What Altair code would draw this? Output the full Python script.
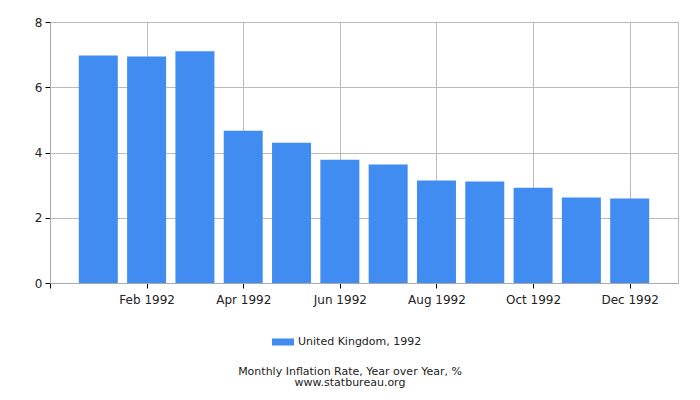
import altair as alt
import pandas as pd

months = ["Jan", "Feb", "Mar", "Apr", "May", "Jun", "Jul", "Aug", "Sep", "Oct", "Nov", "Dec"]
month_index = [1, 2, 3, 4, 5, 6, 7, 8, 9, 10, 11, 12]
values = [6.97, 6.94, 7.10, 4.67, 4.30, 3.78, 3.63, 3.14, 3.11, 2.92, 2.62, 2.59]
series = "United Kingdom, 1992"

df = pd.DataFrame({"idx": month_index, "month": months, "value": values, "series": series})

FONT = "DejaVu Sans"

label_expr = ("datum.value == 2 ? 'Feb 1992' : datum.value == 4 ? 'Apr 1992' : "
              "datum.value == 6 ? 'Jun 1992' : datum.value == 8 ? 'Aug 1992' : "
              "datum.value == 10 ? 'Oct 1992' : datum.value == 12 ? 'Dec 1992' : ''")

chart = alt.Chart(df).mark_bar(size=39).encode(
    x=alt.X("idx:Q", scale=alt.Scale(domain=[0, 13], nice=False, zero=False, padding=0),
            axis=alt.Axis(values=[0, 2, 4, 6, 8, 10, 12], labelExpr=label_expr, title=None,
                          grid=True, gridColor="#bbbbbb", domainColor="#aaaaaa",
                          tickColor="#000000", tickSize=5, labelFont=FONT, labelFontSize=12,
                          labelColor="#222222", labelPadding=6)),
    y=alt.Y("value:Q", scale=alt.Scale(domain=[0, 8], nice=False, padding=0),
            axis=alt.Axis(values=[0, 2, 4, 6, 8], title=None, grid=True, gridColor="#bbbbbb",
                          domainColor="#aaaaaa", tickColor="#000000", tickSize=5,
                          labelFont=FONT, labelFontSize=12, labelColor="#222222", labelPadding=3)),
    color=alt.Color("series:N", scale=alt.Scale(range=["#418cf0"]),
                    legend=alt.Legend(title=None, orient="none", legendX=222, legendY=309,
                                      symbolType="M-1,-0.32H1V0.32H-1Z", symbolSize=484,
                                      symbolStrokeWidth=0, labelFont=FONT, labelFontSize=11,
                                      labelColor="#222222", labelOffset=4)),
).properties(
    width=628,
    height=261,
    autosize=alt.AutoSizeParams(type="none"),
    padding={"left": 42, "top": 14, "right": 6, "bottom": 110},
    title=alt.TitleParams(text=["Monthly Inflation Rate, Year over Year, %", "www.statbureau.org"],
                          orient="bottom", anchor="middle", font=FONT, fontSize=11,
                          fontWeight="normal", color="#222222", offset=19, dx=-14,
                          lineHeight=11),
).configure_view(stroke="#bbbbbb")

chart.save("out.html", embed_options={"renderer": "svg", "actions": False})
